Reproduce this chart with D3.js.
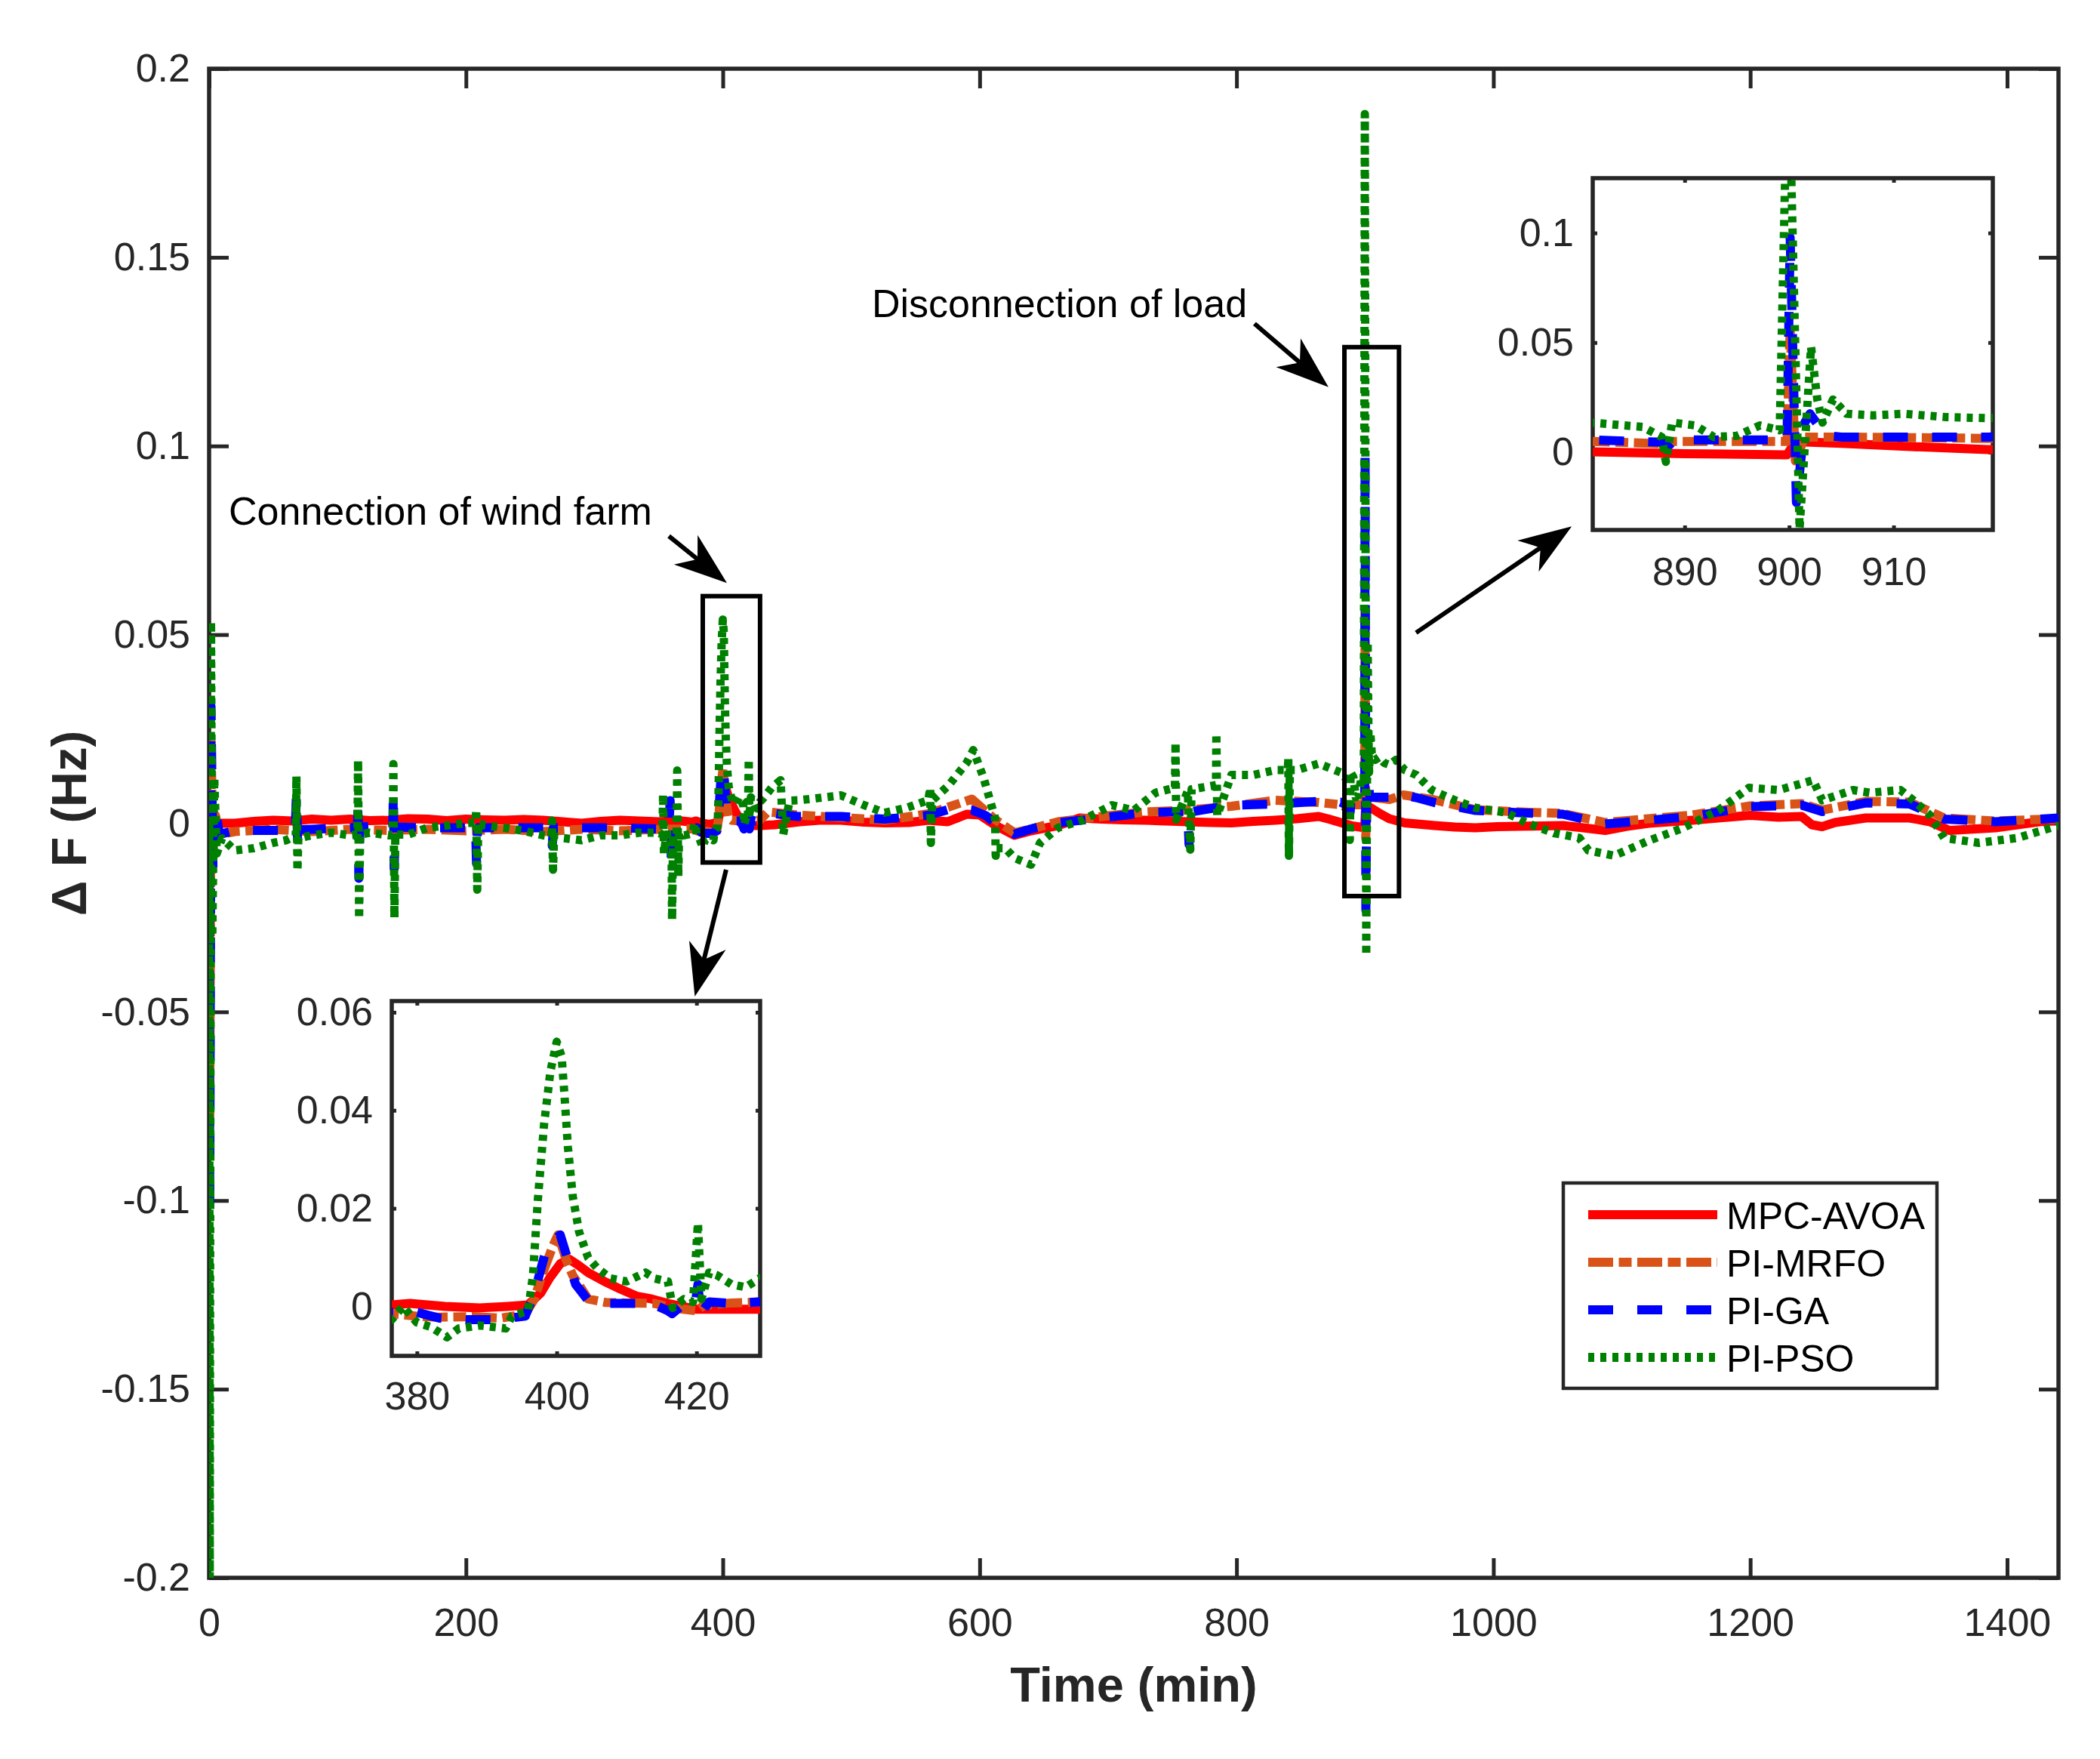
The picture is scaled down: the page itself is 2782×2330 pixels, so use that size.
<!DOCTYPE html>
<html>
<head>
<meta charset="utf-8">
<script src="https://cdn.jsdelivr.net/npm/d3@7"></script>
<style>
  body { margin: 0; background: #fff; }
  text { font-family: "Liberation Sans", Arial, sans-serif; }
</style>
</head>
<body>
<div id="chart"></div>
<script>
// ---- Data (time in min, deviation in Hz) ----
const mpcAvoa = [
  [0,0],[0.5,-0.012],[1.5,0.004],[3,-0.002],[6,0],[20,0],[35,0.0005],[50,0.0008],[65,0.0006],[80,0.0011],
  [95,0.0008],[110,0.0011],[125,0.0007],[140,0.0008],[155,0.0012],[170,0.0011],[185,0.0007],[200,0.0011],
  [215,0.0009],[230,0.0008],[245,0.001],[260,0.0008],[275,0.0004],[290,0],[305,0.0005],[320,0.0008],
  [335,0.0006],[350,0.0004],[365,0.0007],[376.4,0.0003],[379,0.0006],[384,0],[389,-0.0003],[393,0],
  [395.9,0.0003],[397.7,0.0027],[399,0.0058],[400.5,0.0087],[401.8,0.0096],[403,0.0085],[404.5,0.0069],
  [406.8,0.0051],[409,0.0036],[411.4,0.0021],[413.6,0.0015],[415.9,0.0006],[420,-0.0006],[425,-0.0006],
  [430,-0.0006],[440,-0.0004],[460,0.0004],[475,0.0008],[492,0.0008],[510,0.0003],[526,0.0001],[545,0.0002],
  [560,0.0008],[575,0.0004],[590,0.0024],[600,0.0022],[612,-0.0005],[627,-0.0032],[640,-0.002],[661,-0.0006],
  [678,0.0014],[695,0.0011],[712,0.0009],[729,0.0008],[745,0.0006],[762,0.0004],[780,0.0002],[796,0.0001],
  [813,0.0005],[830,0.0008],[847,0.0012],[864,0.0018],[872,0.0011],[881,0.0002],[890,-0.0007],[899.8,-0.0012],
  [900.6,0.0048],[905,0.004],[912,0.0025],[919,0.0012],[931,0.0001],[954,-0.0006],[970,-0.001],[986,-0.0012],
  [1003,-0.0009],[1020,-0.0008],[1054,-0.0006],[1070,-0.0012],[1087,-0.0019],[1104,-0.0008],[1121,0],
  [1155,0.0008],[1175,0.0014],[1200,0.0021],[1222,0.0016],[1240,0.0018],[1248,-0.0004],[1256,-0.0009],
  [1266,0.0002],[1290,0.0014],[1324,0.0014],[1340,0.0004],[1355,-0.0019],[1391,-0.0012],[1425,0.0004],[1440,0.0008]
];

const piMrfo = [
  [0,0],[0.5,-0.08],[1.5,0.022],[3,-0.008],[5,0.002],[8,-0.003],[20,-0.0022],[50,-0.0016],[80,-0.0022],
  [110,-0.0016],[140,-0.0019],[170,-0.0016],[200,-0.002],[230,-0.0016],[260,-0.0022],[290,-0.0016],
  [320,-0.002],[350,-0.0016],[376.4,-0.0015],[380,-0.002],[383,-0.0022],[388,-0.0021],[392,-0.0024],
  [395.5,-0.0016],[396.8,0.0015],[398,0.0068],[399.5,0.0125],[400.2,0.0146],[401.4,0.0093],[402.3,0.0063],
  [404.5,0.0015],[407,0.0008],[410,0.0007],[414,0.0006],[417,-0.0004],[420,-0.0009],[421,0.0002],
  [425,0.0007],[429,0.0009],[435,0.003],[458,0.0022],[492,0.0015],[526,0.0008],[560,0.0025],[594,0.0064],
  [612,0.001],[627,-0.0025],[640,-0.0015],[661,0.0004],[695,0.0018],[729,0.003],[762,0.0035],[796,0.0045],
  [830,0.0061],[864,0.0055],[881,0.0049],[888,0.0038],[889,0.0049],[899.8,0.0049],[900.1,0.056],
  [900.6,-0.004],[901.5,0.0069],[905,0.0069],[919,0.0063],[930,0.0075],[954,0.0062],[986,0.0036],
  [1020,0.003],[1054,0.0026],[1087,0.0002],[1121,0.0012],[1155,0.0022],[1200,0.0046],[1240,0.0052],
  [1256,0.0035],[1290,0.0058],[1324,0.0056],[1351,0.0014],[1391,0.0006],[1440,0.0012]
];

const piGa = [
  [0,0],[0.5,-0.103],[1.5,0.031],[3,-0.012],[5,0.004],[8,-0.003],[20,-0.0019],[50,-0.0019],[67,-0.002],
  [68,0.0075],[69,-0.006],[70,-0.0017],[80,-0.0016],[110,-0.0012],[115.5,-0.0012],[116,0.006],
  [116.6,-0.0146],[117.4,-0.001],[140,-0.0006],[143,-0.001],[143.5,0.008],[144.1,-0.012],[145,-0.001],
  [170,-0.0012],[200,-0.0012],[207.5,-0.0012],[208.2,-0.0106],[209,-0.0012],[230,-0.0012],[266.5,-0.0012],
  [267.2,-0.006],[268,-0.0012],[290,-0.0012],[320,-0.0012],[350,-0.0015],[358,-0.0015],[359,0.006],
  [360,-0.012],[361,-0.0015],[376.4,-0.0012],[380,-0.0012],[383.2,-0.0024],[387,-0.0027],[391.4,-0.0027],
  [395.5,-0.002],[396.8,0.0027],[398.6,0.0122],[400.5,0.0146],[401.4,0.0104],[402.7,0.0045],[404.5,0.0012],
  [406.8,0.0006],[410,0.0006],[413.6,0.0006],[415.9,-0.0009],[416.5,-0.0015],[418,0.0003],[419.8,0.0003],
  [420.2,0.0045],[420.6,-0.0015],[421.8,0.0009],[425,0.0006],[429,0.0009],[435,0.0028],[458,0.0018],
  [492,0.0018],[526,0.0011],[560,0.0021],[580,0.0041],[594,0.0035],[605,0.002],[612,0],[627,-0.0029],
  [640,-0.0015],[661,0.0001],[695,0.0014],[729,0.0028],[762,0.0031],[763,-0.0056],[764,0.003],[796,0.0048],
  [830,0.0051],[864,0.0058],[881,0.0056],[888,0.0045],[888.5,0.003],[889,0.0056],[899.8,0.0056],
  [900.1,0.098],[900.7,-0.023],[901.5,0.0135],[902,0.0175],[903.5,0.0075],[905,0.0069],[919,0.0069],
  [925,0.0078],[940,0.0068],[954,0.0055],[986,0.0034],[1020,0.0028],[1054,0.0024],[1087,-0.0002],
  [1121,0.0008],[1155,0.0018],[1200,0.0044],[1240,0.0048],[1256,0.0031],[1290,0.0054],[1324,0.0051],
  [1351,0.0011],[1391,0.0004],[1440,0.0014]
];

const piPso = [
  [0,0],[0.5,-0.2],[1.5,0.0535],[2.5,-0.03],[4,0.012],[6,-0.008],[10,-0.004],[20,-0.0072],[35,-0.0066],
  [50,-0.0052],[60,-0.0045],[67.5,-0.0032],[68,0.0124],[68.8,-0.0126],[69.5,-0.004],[80,-0.0032],
  [95,-0.0025],[110,-0.0032],[115.5,-0.003],[116,0.0167],[116.8,-0.0253],[117.6,-0.003],[125,-0.0025],
  [140,-0.0032],[143,-0.003],[143.5,0.0157],[144.3,-0.025],[145,-0.003],[155,-0.003],[170,-0.0012],
  [185,-0.0006],[200,0.0001],[207.5,0.0001],[208,0.0037],[208.8,-0.0176],[209.6,0],[215,-0.0006],
  [230,-0.0012],[245,-0.002],[260,-0.0032],[266.5,-0.0035],[267,0.0007],[267.8,-0.0123],[268.6,-0.0035],
  [275,-0.0039],[290,-0.0045],[305,-0.0032],[320,-0.0032],[335,-0.0025],[350,-0.0025],[353,-0.003],
  [353.5,0.0077],[354.2,-0.008],[356,-0.003],[360,-0.003],[360.5,-0.0256],[361.3,-0.003],[364,-0.003],
  [364.5,0.014],[365.3,-0.014],[366,-0.0025],[370,-0.0032],[376.4,-0.0027],[378,0],[380,-0.0033],
  [382,-0.0042],[384.3,-0.0063],[386,-0.0045],[389,-0.0039],[392.7,-0.0045],[393.6,-0.002],[395.9,-0.0009],
  [396.6,0.0063],[397.3,0.0218],[398.2,0.0373],[399.1,0.048],[400,0.054],[400.7,0.051],[401.1,0.0433],
  [401.6,0.0325],[402.3,0.0224],[403.2,0.0152],[404.5,0.0099],[405.8,0.0078],[407.7,0.0057],[410,0.0051],
  [412.7,0.0069],[414,0.0057],[415.9,0.0051],[416.6,-0.0003],[418.2,0.0015],[419.5,0.0009],[420.2,0.017],
  [420.7,0.0015],[421.8,0.0069],[423,0.0063],[425,0.0045],[427,0.0039],[429,0.0057],[432,0.0068],
  [438,0.0094],[445,0.0114],[447,-0.003],[452,0.006],[459,0.0061],[470,0.0065],[492,0.0074],[510,0.0048],
  [526,0.0028],[543,0.0041],[560,0.0061],[561.5,0.0094],[562,-0.0052],[563,0.006],[576,0.0101],
  [590,0.0161],[595,0.0194],[603,0.0121],[612,0.0014],[612.5,-0.0086],[613,-0.0066],[620,-0.0066],
  [627,-0.0092],[640,-0.011],[647,-0.0052],[661,-0.0012],[680,0.0008],[703,0.0048],[720,0.0034],
  [737,0.0081],[752,0.0094],[752.5,0.0214],[753,0.001],[762,0.0085],[764,-0.007],[765,0.009],[784,0.0101],
  [784.3,0.0238],[785,0.002],[796,0.0128],[813,0.0128],[830,0.0141],[840,0.0141],[840.3,0.0174],
  [840.8,-0.0086],[841.5,0.0141],[847,0.0141],[864,0.0158],[881,0.0135],[886,0.0115],[887.8,0.0069],
  [888.2,-0.0044],[888.8,0.0135],[891,0.0122],[892.8,0.0069],[895,0.0075],[897.2,0.0122],[899.1,0.010],
  [899.9,0.188],[901,-0.035],[902.1,0.048],[902.7,0.024],[903.2,0.0135],[904.2,0.024],[905.5,0.0175],
  [908,0.0168],[911,0.0175],[915,0.016],[919,0.0155],[924,0.0168],[931,0.0141],[940,0.0128],[952,0.0088],
  [970,0.0061],[986,0.0041],[1010,0.0028],[1026,0.0001],[1047,-0.0026],[1067,-0.0039],[1074,-0.0072],
  [1094,-0.0086],[1121,-0.0046],[1148,-0.0012],[1175,0.0034],[1199,0.0094],[1222,0.0088],[1249,0.0114],
  [1256,0.0061],[1280,0.0088],[1293,0.0081],[1317,0.0088],[1327,0.0061],[1340,0.0021],[1351,-0.0039],
  [1378,-0.0052],[1408,-0.0039],[1440,-0.0006]
];

const seriesNames = ["MPC-AVOA", "PI-MRFO", "PI-GA", "PI-PSO"];

// tick values
const xTicks = [0, 200, 400, 600, 800, 1000, 1200, 1400];
const yTicks = [-0.2, -0.15, -0.1, -0.05, 0, 0.05, 0.1, 0.15, 0.2];
const inset1XTicks = [380, 400, 420];
const inset1YTicks = [0, 0.02, 0.04, 0.06];
const inset2XTicks = [890, 900, 910];
const inset2YTicks = [0, 0.05, 0.1];

// ---- Layout ----
const W = 2782, H = 2330;
const fontSize = 52;
const axisColor = "#262626";

const styles = [
  {color: "#ff0000", width: 12, dash: null},
  {color: "#d95319", width: 12, dash: "33,7.5,17,7.5"},
  {color: "#0000ff", width: 12, dash: "33,32"},
  {color: "#008000", width: 11, dash: "8,8"}
];
const seriesData = [mpcAvoa, piMrfo, piGa, piPso];
const series = seriesNames.map((name, i) => ({name, data: seriesData[i], ...styles[i]}));

const svg = d3.select("#chart")
  .append("svg")
  .attr("width", W)
  .attr("height", H)
  .style("background", "#fff");

const fmt = v => String(v);

// Draws one set of axes with its lines; returns the scales
function drawPanel(cfg) {
  const b = cfg.box;
  const x = d3.scaleLinear().domain(cfg.xDomain).range([b.left, b.right]);
  const y = d3.scaleLinear().domain(cfg.yDomain).range([b.bottom, b.top]);

  const g = svg.append("g").attr("class", cfg.id);

  g.append("rect")
    .attr("x", b.left).attr("y", b.top)
    .attr("width", b.right - b.left).attr("height", b.bottom - b.top)
    .attr("fill", "#fff");

  // ticks on all four sides, pointing inwards
  const axes = [
    {ax: d3.axisBottom(x).tickValues(cfg.xTicks).tickFormat(fmt), t: `translate(0,${b.bottom})`},
    {ax: d3.axisTop(x).tickValues(cfg.xTicks).tickFormat(""), t: `translate(0,${b.top})`},
    {ax: d3.axisLeft(y).tickValues(cfg.yTicks).tickFormat(fmt), t: `translate(${b.left},0)`},
    {ax: d3.axisRight(y).tickValues(cfg.yTicks).tickFormat(""), t: `translate(${b.right},0)`}
  ];
  axes.forEach((a, i) => {
    const isX = i < 2;
    const ag = g.append("g")
      .attr("transform", a.t)
      .call(a.ax.tickSizeInner(-cfg.tickLen).tickSizeOuter(0).tickPadding(isX ? cfg.xPad : 25));
    ag.select(".domain").remove();
    ag.selectAll(".tick line").attr("stroke", axisColor).attr("stroke-width", 5);
    ag.selectAll(".tick text")
      .attr("fill", axisColor)
      .style("font-size", fontSize + "px")
      .style("font-family", '"Liberation Sans", Arial, sans-serif');
  });

  g.append("rect")
    .attr("x", b.left).attr("y", b.top)
    .attr("width", b.right - b.left).attr("height", b.bottom - b.top)
    .attr("fill", "none")
    .attr("stroke", axisColor)
    .attr("stroke-width", 5.5);

  svg.append("clipPath").attr("id", cfg.id + "-clip")
    .append("rect")
    .attr("x", b.left).attr("y", b.top)
    .attr("width", b.right - b.left).attr("height", b.bottom - b.top);

  const line = d3.line().x(d => x(d[0])).y(d => y(d[1]));

  g.append("g")
    .attr("clip-path", `url(#${cfg.id}-clip)`)
    .selectAll("path")
    .data(series)
    .enter()
    .append("path")
    .attr("d", d => line(d.data))
    .attr("fill", "none")
    .attr("stroke", d => d.color)
    .attr("stroke-width", d => d.width)
    .attr("stroke-dasharray", d => d.dash)
    .attr("stroke-linejoin", "round");

  return {x, y};
}

// Main axes
const main = drawPanel({
  id: "main",
  box: {left: 277, right: 2727, top: 91, bottom: 2090},
  xDomain: [0, 1440], yDomain: [-0.2, 0.2],
  xTicks: xTicks, yTicks: yTicks, tickLen: 26, xPad: 40
});

// Axis titles
svg.append("text")
  .attr("x", (277 + 2727) / 2)
  .attr("y", 2254)
  .attr("text-anchor", "middle")
  .attr("fill", axisColor)
  .style("font-size", "65px")
  .style("font-weight", "bold")
  .text("Time (min)");

svg.append("text")
  .attr("transform", `translate(114, ${(91 + 2090) / 2}) rotate(-90)`)
  .attr("text-anchor", "middle")
  .attr("fill", axisColor)
  .style("font-size", "65px")
  .style("font-weight", "bold")
  .text("\u0394 F (Hz)");

// Highlight boxes (data coordinates)
const zoomBoxes = [
  {t0: 384.4, t1: 429, v0: -0.0104, v1: 0.0602},
  {t0: 884, t1: 926.5, v0: -0.0193, v1: 0.1262}
];
svg.selectAll(".zoom-box")
  .data(zoomBoxes)
  .enter()
  .append("rect")
  .attr("class", "zoom-box")
  .attr("x", d => main.x(d.t0))
  .attr("y", d => main.y(d.v1))
  .attr("width", d => main.x(d.t1) - main.x(d.t0))
  .attr("height", d => main.y(d.v0) - main.y(d.v1))
  .attr("fill", "none")
  .attr("stroke", "#000")
  .attr("stroke-width", 6);

// Insets
drawPanel({
  id: "inset1",
  box: {left: 519, right: 1007, top: 1326, bottom: 1796},
  xDomain: [376.4, 429.1], yDomain: [-0.0101, 0.0623],
  xTicks: inset1XTicks, yTicks: inset1YTicks, tickLen: 6, xPad: 34
});
drawPanel({
  id: "inset2",
  box: {left: 2110, right: 2640, top: 236, bottom: 702},
  xDomain: [881.2, 919.5], yDomain: [-0.0355, 0.125],
  xTicks: inset2XTicks, yTicks: inset2YTicks, tickLen: 6, xPad: 36
});

// Annotation texts and arrows (main data coordinates)
const notes = [
  {text: "Connection of wind farm", t: 15.3, v: 0.0791},
  {text: "Disconnection of load", t: 516, v: 0.1342}
];
svg.selectAll(".note")
  .data(notes)
  .enter()
  .append("text")
  .attr("class", "note")
  .attr("x", d => main.x(d.t))
  .attr("y", d => main.y(d.v))
  .attr("fill", "#000")
  .style("font-size", fontSize + "px")
  .text(d => d.text);

const arrows = [
  {from: [358, 0.0761], to: [403.2, 0.0637]},
  {from: [814, 0.1324], to: [871.6, 0.1156]},
  {from: [402.6, -0.0123], to: [378.2, -0.0459]},
  {from: [939.8, 0.0505], to: [1061, 0.0787]}
];
arrows.forEach(a => {
  const x1 = main.x(a.from[0]), y1 = main.y(a.from[1]);
  const x2 = main.x(a.to[0]), y2 = main.y(a.to[1]);
  const len = Math.hypot(x2 - x1, y2 - y1);
  const ux = (x2 - x1) / len, uy = (y2 - y1) / len;
  const nx = -uy, ny = ux;
  const L = 70, Wd = 25, notch = 50;
  svg.append("line")
    .attr("x1", x1).attr("y1", y1)
    .attr("x2", x2 - ux * notch).attr("y2", y2 - uy * notch)
    .attr("stroke", "#000").attr("stroke-width", 6);
  const pts = [
    [x2, y2],
    [x2 - ux * L + nx * Wd, y2 - uy * L + ny * Wd],
    [x2 - ux * notch, y2 - uy * notch],
    [x2 - ux * L - nx * Wd, y2 - uy * L - ny * Wd]
  ];
  svg.append("path")
    .attr("d", "M" + pts.map(p => p.join(",")).join("L") + "Z")
    .attr("fill", "#000");
});

// Legend
const legend = svg.append("g").attr("class", "legend");
legend.append("rect")
  .attr("x", 2071).attr("y", 1567)
  .attr("width", 2566 - 2071).attr("height", 1839 - 1567)
  .attr("fill", "#fff")
  .attr("stroke", axisColor)
  .attr("stroke-width", 4.5);

const rows = legend.selectAll(".row")
  .data(series)
  .enter()
  .append("g")
  .attr("class", "row")
  .attr("transform", (d, i) => `translate(0, ${1609 + i * 63})`);

rows.append("line")
  .attr("x1", 2104).attr("x2", 2275)
  .attr("y1", 0).attr("y2", 0)
  .attr("stroke", d => d.color)
  .attr("stroke-width", 12)
  .attr("stroke-dasharray", d => d.dash);

rows.append("text")
  .attr("x", 2287)
  .attr("y", 19)
  .attr("fill", "#000")
  .style("font-size", "50px")
  .text(d => d.name);
</script>
</body>
</html>
